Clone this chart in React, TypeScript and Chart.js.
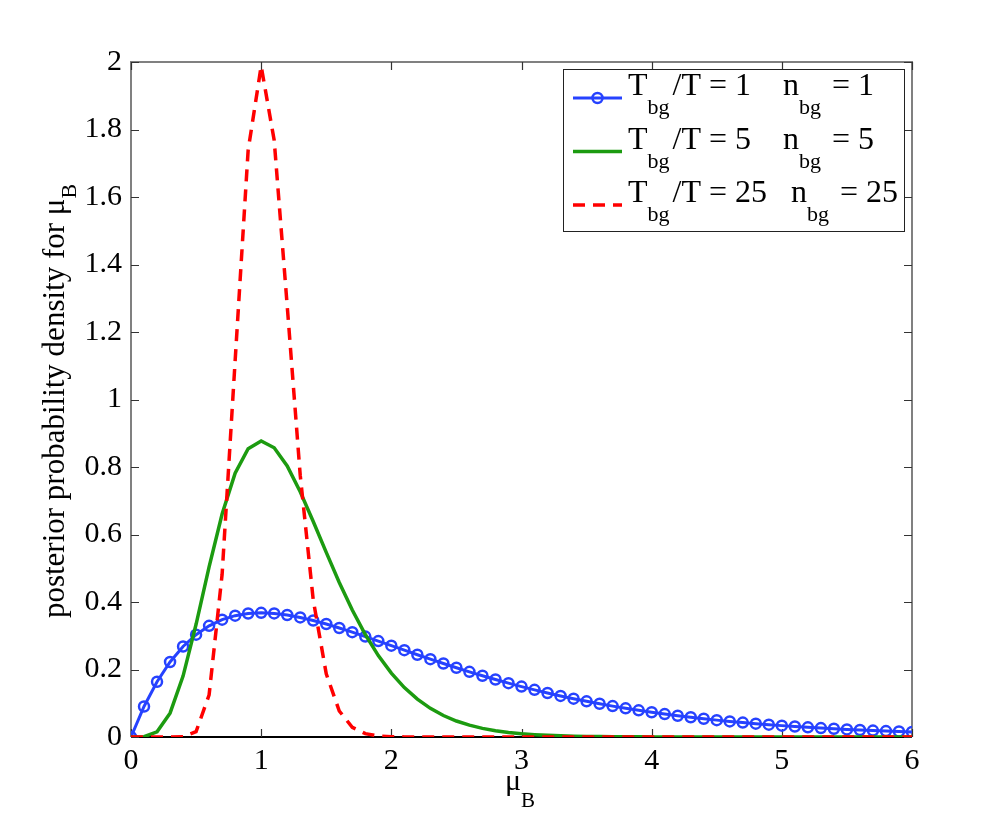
import React, { useEffect, useRef } from "react";
import { Chart, registerables } from "chart.js";

Chart.register(...registerables);

// ---------------- data ----------------
const muValues = [
  0, 0.1, 0.2, 0.3, 0.4, 0.5, 0.6, 0.7, 0.8, 0.9,
  1.0, 1.1, 1.2, 1.3, 1.4, 1.5, 1.6, 1.7, 1.8, 1.9,
  2.0, 2.1, 2.2, 2.3, 2.4, 2.5, 2.6, 2.7, 2.8, 2.9,
  3.0, 3.1, 3.2, 3.3, 3.4, 3.5, 3.6, 3.7, 3.8, 3.9,
  4.0, 4.1, 4.2, 4.3, 4.4, 4.5, 4.6, 4.7, 4.8, 4.9,
  5.0, 5.1, 5.2, 5.3, 5.4, 5.5, 5.6, 5.7, 5.8, 5.9,
  6.0,
];

// T_bg/T = 1, n_bg = 1
const densityN1 = [
  0, 0.0905, 0.1637, 0.2222, 0.2681, 0.3033, 0.3293, 0.3476, 0.3595, 0.3659,
  0.3679, 0.3662, 0.3614, 0.3543, 0.3452, 0.3347, 0.3230, 0.3106, 0.2975, 0.2842,
  0.2707, 0.2572, 0.2438, 0.2306, 0.2177, 0.2052, 0.1931, 0.1815, 0.1703, 0.1596,
  0.1494, 0.1397, 0.1304, 0.1217, 0.1135, 0.1057, 0.0984, 0.0915, 0.0850, 0.0790,
  0.0733, 0.0680, 0.0630, 0.0584, 0.0540, 0.0500, 0.0462, 0.0428, 0.0395, 0.0365,
  0.0337, 0.0311, 0.0287, 0.0265, 0.0244, 0.0225, 0.0207, 0.0191, 0.0176, 0.0162,
  0.0149,
];

// T_bg/T = 5, n_bg = 5
const densityN5 = [
  0, 0.0008, 0.0153, 0.0706, 0.1804, 0.3340, 0.5041, 0.6608, 0.7815, 0.8541,
  0.8773, 0.8570, 0.8031, 0.7268, 0.6386, 0.5469, 0.4580, 0.3762, 0.3036, 0.2413,
  0.1892, 0.1464, 0.1121, 0.0849, 0.0637, 0.0474, 0.0350, 0.0256, 0.0186, 0.0135,
  0.0097, 0.0069, 0.0049, 0.0035, 0.0025, 0.0017, 0.0012, 0.0008, 0.0006, 0.0004,
  0.0003, 0.0002, 0.0001, 0.0001, 0.0001, 0, 0, 0, 0, 0,
  0, 0, 0, 0, 0, 0, 0, 0, 0, 0,
  0,
];

// T_bg/T = 25, n_bg = 25
const densityN25 = [
  0, 0, 0, 0.00001, 0.0007, 0.0159, 0.1245, 0.4821, 1.1147, 1.7389,
  1.9880, 1.7681, 1.2779, 0.7759, 0.4062, 0.1871, 0.0771, 0.0288, 0.0099, 0.0031,
  0.0009, 0.0003, 0.0001, 0, 0, 0, 0, 0, 0, 0,
  0, 0, 0, 0, 0, 0, 0, 0, 0, 0,
  0, 0, 0, 0, 0, 0, 0, 0, 0, 0,
  0, 0, 0, 0, 0, 0, 0, 0, 0, 0,
  0,
];

const xTickValues = [0, 1, 2, 3, 4, 5, 6];
const xTickLabels = ["0", "1", "2", "3", "4", "5", "6"];
const yTickValues = [0, 0.2, 0.4, 0.6, 0.8, 1, 1.2, 1.4, 1.6, 1.8, 2];
const yTickLabels = ["0", "0.2", "0.4", "0.6", "0.8", "1", "1.2", "1.4", "1.6", "1.8", "2"];

type Seg = { t: string; sub?: boolean };
const legendEntries: { segs: Seg[]; key: string }[] = [
  { key: "n1", segs: [{ t: "T" }, { t: "bg", sub: true }, { t: "/T = 1    n" }, { t: "bg", sub: true }, { t: " = 1" }] },
  { key: "n5", segs: [{ t: "T" }, { t: "bg", sub: true }, { t: "/T = 5    n" }, { t: "bg", sub: true }, { t: " = 5" }] },
  { key: "n25", segs: [{ t: "T" }, { t: "bg", sub: true }, { t: "/T = 25   n" }, { t: "bg", sub: true }, { t: " = 25" }] },
];

const xTitle: Seg[] = [{ t: "μ" }, { t: "B", sub: true }];
const yTitle: Seg[] = [{ t: "posterior probability density for μ" }, { t: "B", sub: true }];

// ---------------- styles ----------------
const FONT = "'Liberation Serif', 'Times New Roman', serif";
const BLUE = "rgb(38, 66, 255)";
const GREEN = "rgb(28, 155, 16)";
const RED = "rgb(255, 0, 0)";
const BOX_GRAY = "rgb(128, 128, 128)";

function richWidth(ctx: CanvasRenderingContext2D, segs: Seg[], main: number, sub: number) {
  let w = 0;
  for (const s of segs) {
    ctx.font = `${s.sub ? sub : main}px ${FONT}`;
    w += ctx.measureText(s.t).width + (s.sub ? 3 : 0);
  }
  return w;
}

function drawRich(
  ctx: CanvasRenderingContext2D,
  segs: Seg[],
  x: number,
  y: number,
  main: number,
  sub: number,
  subOff: number
) {
  let cx = x;
  ctx.textAlign = "left";
  ctx.textBaseline = "alphabetic";
  for (const s of segs) {
    ctx.font = `${s.sub ? sub : main}px ${FONT}`;
    ctx.fillText(s.t, cx, s.sub ? y + subOff : y);
    cx += ctx.measureText(s.t).width + (s.sub ? 3 : 0);
  }
}

const decorPlugin = {
  id: "matlabDecor",
  beforeDatasetsDraw(chart: any) {
    const { ctx, chartArea } = chart;
    const { left, right, top, bottom } = chartArea;
    const xs = chart.scales.x;
    const ys = chart.scales.y;
    ctx.save();
    // box
    ctx.lineWidth = 2;
    ctx.strokeStyle = BOX_GRAY;
    ctx.beginPath();
    ctx.moveTo(left, bottom);
    ctx.lineTo(left, top);
    ctx.lineTo(right, top);
    ctx.lineTo(right, bottom);
    ctx.stroke();
    ctx.strokeStyle = "#000";
    ctx.beginPath();
    ctx.moveTo(left, bottom);
    ctx.lineTo(right, bottom);
    ctx.stroke();
    // inward ticks
    const tl = 8;
    ctx.lineWidth = 1.2;
    ctx.strokeStyle = "#333";
    ctx.beginPath();
    for (const v of xTickValues) {
      const px = Math.round(xs.getPixelForValue(v)) + 0.5;
      ctx.moveTo(px, bottom);
      ctx.lineTo(px, bottom - tl);
      ctx.moveTo(px, top);
      ctx.lineTo(px, top + tl);
    }
    for (const v of yTickValues) {
      const py = Math.round(ys.getPixelForValue(v)) + 0.5;
      ctx.moveTo(left, py);
      ctx.lineTo(left + tl, py);
      ctx.moveTo(right, py);
      ctx.lineTo(right - tl, py);
    }
    ctx.stroke();
    ctx.restore();
  },
  afterDraw(chart: any) {
    const { ctx, chartArea } = chart;
    const { left, right, top, bottom } = chartArea;
    ctx.save();
    ctx.fillStyle = "#000";
    // x title
    const cxMid = (left + right) / 2;
    const wx = richWidth(ctx, xTitle, 30, 21);
    drawRich(ctx, xTitle, cxMid - wx / 2, 790, 30, 21, 17);
    // y title
    const cyMid = (top + bottom) / 2;
    ctx.save();
    ctx.translate(64, cyMid);
    ctx.rotate(-Math.PI / 2);
    const wy = richWidth(ctx, yTitle, 31, 22);
    drawRich(ctx, yTitle, -wy / 2, 0, 31, 22, 12);
    ctx.restore();

    // legend
    const lx = 563, ly = 69, lw = 341, lh = 162;
    ctx.fillStyle = "#fff";
    ctx.fillRect(lx, ly, lw, lh);
    ctx.strokeStyle = "#222";
    ctx.lineWidth = 1;
    ctx.strokeRect(lx + 0.5, ly + 0.5, lw, lh);
    const rowBase = [95, 148.5, 202];
    const styles = [
      { color: BLUE, dash: [] as number[], marker: true, width: 3 },
      { color: GREEN, dash: [] as number[], marker: false, width: 3.5 },
      { color: RED, dash: [12, 8], marker: false, width: 3.5 },
    ];
    legendEntries.forEach((e, i) => {
      const st = styles[i];
      const yl = rowBase[i] + 3;
      ctx.save();
      ctx.strokeStyle = st.color;
      ctx.lineWidth = st.width;
      ctx.setLineDash(st.dash);
      ctx.beginPath();
      ctx.moveTo(573, yl);
      ctx.lineTo(622, yl);
      ctx.stroke();
      ctx.setLineDash([]);
      if (st.marker) {
        ctx.lineWidth = 2.5;
        ctx.beginPath();
        ctx.arc(597.5, yl, 5, 0, Math.PI * 2);
        ctx.stroke();
      }
      ctx.restore();
      ctx.fillStyle = "#000";
      drawRich(ctx, e.segs, 628, rowBase[i], 32, 22, 19);
    });
    ctx.restore();
  },
};

export default function App() {
  const canvasRef = useRef<HTMLCanvasElement | null>(null);

  useEffect(() => {
    const canvas = canvasRef.current;
    if (!canvas) return;
    const mk = (ys: number[]) => muValues.map((x, i) => ({ x, y: ys[i] }));
    const chart = new Chart(canvas, {
      type: "line",
      data: {
        datasets: [
          {
            label: "T_bg/T = 1, n_bg = 1",
            data: mk(densityN1),
            borderColor: BLUE,
            borderWidth: 3,
            pointRadius: 5,
            pointBorderWidth: 2.5,
            pointBorderColor: BLUE,
            pointBackgroundColor: "rgba(0,0,0,0)",
            pointStyle: "circle",
            tension: 0,
            order: 3,
          },
          {
            label: "T_bg/T = 5, n_bg = 5",
            data: mk(densityN5),
            borderColor: GREEN,
            borderWidth: 3.5,
            pointRadius: 0,
            tension: 0,
            order: 2,
          },
          {
            label: "T_bg/T = 25, n_bg = 25",
            data: mk(densityN25),
            borderColor: RED,
            borderWidth: 3.5,
            borderDash: [12, 8],
            pointRadius: 0,
            tension: 0,
            order: 1,
          },
        ],
      },
      options: {
        responsive: false,
        animation: false,
        devicePixelRatio: 1,
        layout: { padding: { left: 0, top: 62, right: 95, bottom: 0 } },
        plugins: { legend: { display: false }, tooltip: { enabled: false } },
        scales: {
          x: {
            type: "linear",
            min: 0,
            max: 6,
            grid: { display: false, drawTicks: false },
            border: { display: false },
            afterBuildTicks: (s: any) => {
              s.ticks = xTickValues.map((v) => ({ value: v }));
            },
            afterFit: (s: any) => {
              s.height = 93;
            },
            ticks: {
              color: "#000",
              font: { family: FONT, size: 30 },
              padding: 6,
              maxRotation: 0,
              autoSkip: false,
              callback: (_v: any, i: number) => xTickLabels[i],
            },
          },
          y: {
            type: "linear",
            min: 0,
            max: 2,
            grid: { display: false, drawTicks: false },
            border: { display: false },
            afterBuildTicks: (s: any) => {
              s.ticks = yTickValues.map((v) => ({ value: v }));
            },
            afterFit: (s: any) => {
              s.width = 131;
            },
            ticks: {
              color: "#000",
              font: { family: FONT, size: 30 },
              padding: 9,
              autoSkip: false,
              callback: (_v: any, i: number) => yTickLabels[i],
            },
          },
        },
      },
      plugins: [decorPlugin],
    } as any);
    return () => chart.destroy();
  }, []);

  return (
    <div style={{ position: "fixed", left: 0, top: 0, width: 1007, height: 830, background: "#fff" }}>
      <canvas ref={canvasRef} width={1007} height={830} style={{ width: 1007, height: 830, display: "block" }} />
    </div>
  );
}
